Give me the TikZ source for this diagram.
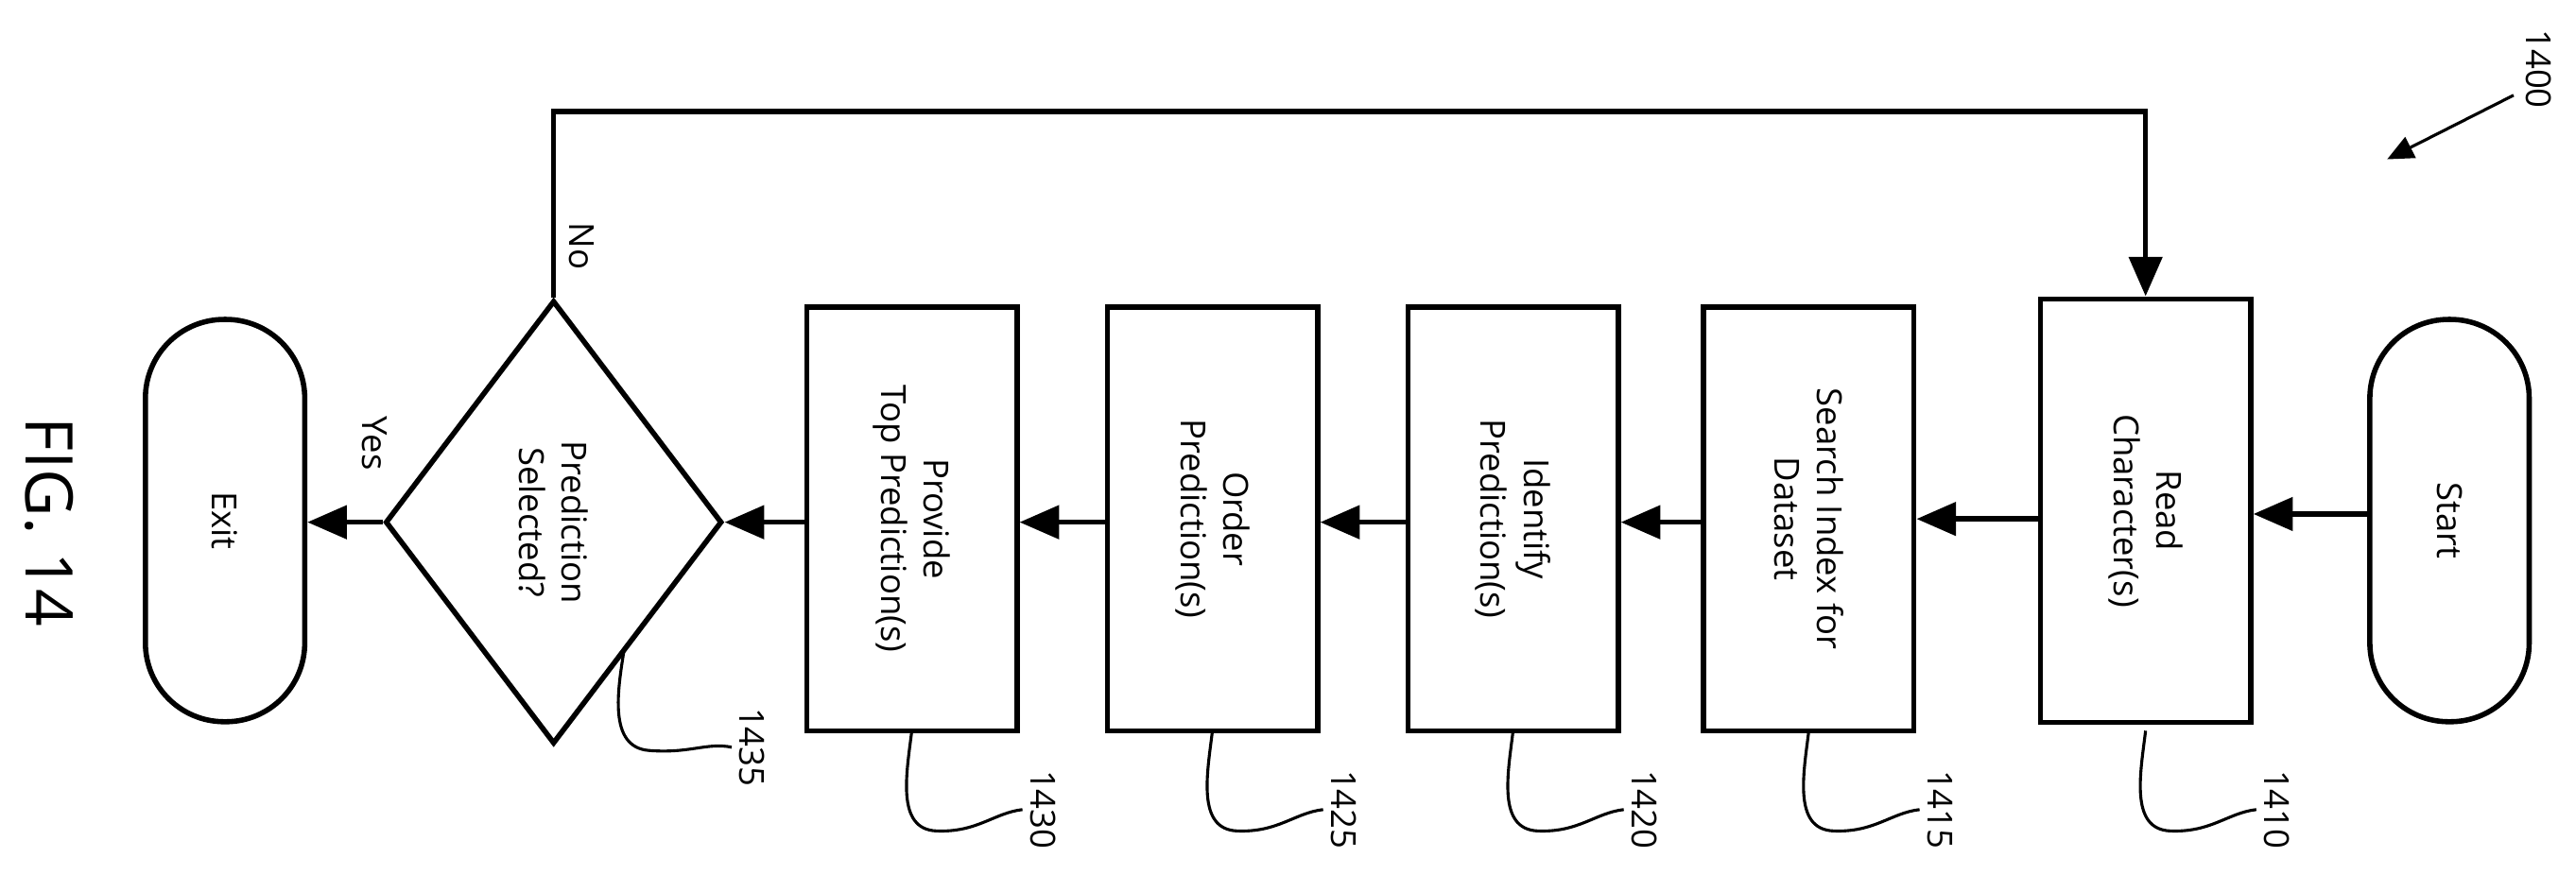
\documentclass[tikz,border=0pt]{standalone}
\usepackage{fontspec}
\setmainfont{Open Sans}
\usetikzlibrary{shapes.geometric,arrows.meta}
\begin{document}
\begin{tikzpicture}[x=1pt,y=-1pt,line width=3.2pt,
  txt/.style={font=\fontsize{21}{26}\selectfont,align=center,rotate=-90},
  box/.style={draw,minimum width=258pt,minimum height=128pt,rotate=-90,font=\fontsize{21}{26}\selectfont,align=center},
  term/.style={draw,rounded corners=48pt,minimum width=245pt,minimum height=97pt,rotate=-90,font=\fontsize{21}{26}\selectfont},
  arr/.style={-{Triangle[length=24pt,width=20pt]}},
  lead/.style={line width=1.8pt}]
\useasboundingbox (0,0) rectangle (1568,543);
\node[term] (start) at (1491,317) {Start};
\node[box] (read) at (1306,311) {Read\\Character(s)};
\node[box] (search) at (1101,316) {Search Index for\\Dataset};
\node[box] (ident) at (921,316) {Identify\\Prediction(s)};
\node[box] (order) at (738,316) {Order\\Prediction(s)};
\node[box] (prov) at (555,316) {Provide\\Top Prediction(s)};
\node[draw,diamond,aspect=0.76,minimum width=205pt,inner sep=0pt,minimum height=270pt] (dia) at (337,318) {};
\node[txt] at (337,318) {Prediction\\Selected?};
\node[term] (exit) at (137,317) {Exit};
\node[txt,font=\fontsize{40}{44}\selectfont] (fig) at (30,318) {FIG. 14};

\draw[arr] (start.south |- 0,313) -- (read.north |- 0,313);
\draw[arr] (read.south |- 0,316) -- (search.north |- 0,316);
\draw[arr] (search.south |- 0,318) -- (ident.north |- 0,318);
\draw[arr] (ident.south |- 0,318) -- (order.north |- 0,318);
\draw[arr] (order.south |- 0,318) -- (prov.north |- 0,318);
\draw[arr] (prov.south |- 0,318) -- (dia.east);
\draw[arr] (dia.west) -- (exit.north |- 0,318);
\draw[arr] (dia.north) -- (337,68) -- (1306,68) -- (read.west);
\node[txt] (no) at (354,150) {No};
\node[txt] (yes) at (228,270) {Yes};

\node[txt] (n1400) at (1545,42) {1400};
\coordinate (a1) at (1530,58);
\coordinate (a2) at (1453,97);
\draw[lead,-{Triangle[length=16pt,width=14pt]}] (a1) -- (a2);

\foreach \x/\lab/\nm in {1306/1410/l1,1101/1415/l2,921/1420/l3,738/1425/l4,555/1430/l5}{
  \node[txt] (\nm) at (\x+80,493) {\lab};
  \draw[lead] (\x,445) .. controls (\x-3,470) and (\x-10,505) .. (\x+15,506)
     .. controls (\x+40,507) and (\x+50,495) .. (\nm.south);
}
\node[txt] (l6) at (458,455) {1435};
\draw[lead] (380,395) .. controls (376,420) and (370,455) .. (395,457)
   .. controls (420,459) and (430,452) .. (l6.south);
\end{tikzpicture}
\end{document}
